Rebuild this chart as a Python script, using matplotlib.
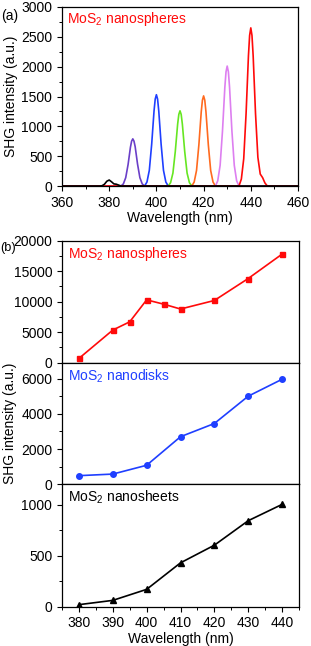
import numpy as np
import matplotlib
matplotlib.use("Agg")
import matplotlib.pyplot as plt
from matplotlib.ticker import MultipleLocator

plt.rcParams['font.family'] = ['Liberation Sans', 'DejaVu Sans']
plt.rcParams['font.size'] = 10
plt.rcParams['axes.linewidth'] = 0.9

# (a) SHG spectra, one peak per excitation wavelength
SPEC_COLORS = ['#6a3fc8', '#1f3fff', '#66e622', '#ff6a1f', '#dd7ff0', '#ff0a0a', 'black']
spec_wl = [
    [360, 385, 386, 387, 388, 389, 389.5, 390, 390.5, 391, 392, 393, 394, 395, 460],
    [360, 395, 396, 397, 398, 399, 399.5, 400, 400.5, 401, 402, 403, 404, 405, 460],
    [360, 405, 406, 407, 408, 409, 409.5, 410, 410.5, 411, 412, 413, 414, 415, 460],
    [360, 415, 416, 417, 418, 419, 419.5, 420, 420.5, 421, 422, 423, 424, 425, 460],
    [360, 425, 426, 427, 428, 429, 429.5, 430, 430.5, 431, 432, 433, 434, 435, 460],
    [360, 435, 436, 437, 438, 439, 439.5, 440, 440.5, 441, 442, 443, 444, 445, 446, 447, 460],
    [360, 376, 377, 378, 379, 380, 381, 382, 383, 384, 385, 460],
]
spec_int = [
    [0, 0, 35, 140, 360, 650, 752, 790, 752, 660, 370, 140, 35, 0, 0],
    [0, 0, 67, 263, 700, 1259, 1457, 1530, 1457, 1259, 700, 263, 67, 0, 0],
    [0, 0, 55, 217, 577, 1037, 1200, 1260, 1200, 1037, 577, 217, 55, 0, 0],
    [0, 0, 66, 260, 692, 1243, 1438, 1510, 1438, 1243, 692, 260, 66, 0, 0],
    [0, 0, 88, 346, 920, 1654, 1914, 2010, 1914, 1654, 920, 346, 88, 0, 0],
    [0, 0, 117, 456, 1214, 2181, 2523, 2650, 2523, 2181, 1214, 480, 200, 140, 50, 0, 0],
    [0, 0, 5, 30, 80, 100, 70, 35, 30, 15, 0, 0],
]

# (b) integrated SHG intensity vs wavelength
sph_wl = [380, 390, 395, 400, 405, 410, 420, 430, 440]
sph_int = [700, 5350, 6700, 10300, 9600, 8800, 10200, 13800, 17800]
disk_wl = [380, 390, 400, 410, 420, 430, 440]
disk_int = [490, 580, 1080, 2700, 3450, 5000, 5960]
sheet_wl = [380, 390, 400, 410, 420, 430, 440]
sheet_int = [20, 62, 170, 430, 603, 843, 1003]

fig = plt.figure(figsize=(3.11, 6.46), dpi=100)

def style(ax):
    ax.tick_params(which='both', direction='out', top=False, right=False)
    ax.tick_params(which='major', length=3.5, width=0.8)
    ax.tick_params(which='minor', length=2, width=0.7)

W, H = 311.0, 646.0
def rect(l, t, r, b):
    return [l / W, 1 - b / H, (r - l) / W, (b - t) / H]

# panel (a)
ax = fig.add_axes(rect(62, 7, 298, 186))
for wl, it, c in zip(spec_wl, spec_int, SPEC_COLORS):
    ax.plot(wl, it, color=c, lw=1.2)
ax.set_xlim(360, 460)
ax.set_ylim(0, 3000)
ax.xaxis.set_major_locator(MultipleLocator(20))
ax.xaxis.set_minor_locator(MultipleLocator(10))
ax.yaxis.set_major_locator(MultipleLocator(500))
ax.yaxis.set_minor_locator(MultipleLocator(250))
style(ax)
ax.set_xlabel('Wavelength (nm)', labelpad=1)
ax.set_ylabel('SHG intensity (a.u.)', labelpad=2)
ax.text(0.02, 0.935, 'MoS$_\\mathregular{2}$ nanospheres', color='#ff0a0a',
        transform=ax.transAxes, va='center', ha='left')
fig.text(1 / W, 1 - 16 / H, '(a)', va='center', ha='left')

# panel (b)
tops = [240.7, 362.7, 484.3]
bots = [362.7, 484.3, 606.7]
series = [
    (sph_wl, sph_int, '#ff0a0a', 's', 3.6, 'MoS$_\\mathregular{2}$ nanospheres', 20000, 5000, 2500),
    (disk_wl, disk_int, '#1f3fff', 'o', 4.0, 'MoS$_\\mathregular{2}$ nanodisks', 6900, 2000, 1000),
    (sheet_wl, sheet_int, 'black', '^', 4.2, 'MoS$_\\mathregular{2}$ nanosheets', 1200, 500, 250),
]
axes = []
for i, (wl, it, c, m, ms, lab, ymax, maj, mnr) in enumerate(series):
    a = fig.add_axes(rect(62, tops[i], 299, bots[i]))
    a.plot(wl, it, color=c, marker=m, ms=ms, lw=1.2)
    a.set_xlim(375, 445)
    a.set_ylim(0, ymax)
    a.xaxis.set_major_locator(MultipleLocator(10))
    a.xaxis.set_minor_locator(MultipleLocator(5))
    a.yaxis.set_major_locator(MultipleLocator(maj))
    a.yaxis.set_minor_locator(MultipleLocator(mnr))
    style(a)
    a.text(0.025, 0.89, lab, color=c, transform=a.transAxes, va='center', ha='left')
    if i < 2:
        a.tick_params(axis='x', which='both', labelbottom=False, length=0)
    axes.append(a)
axes[2].set_xlabel('Wavelength (nm)', labelpad=1)
fig.text(10 / W, 1 - 423 / H, 'SHG intensity (a.u.)', rotation=90, va='center', ha='center')
fig.text(0 / W, 1 - 248 / H, '(b)', va='center', ha='left', fontsize=9.2)

fig.savefig('out.png', dpi=100)
